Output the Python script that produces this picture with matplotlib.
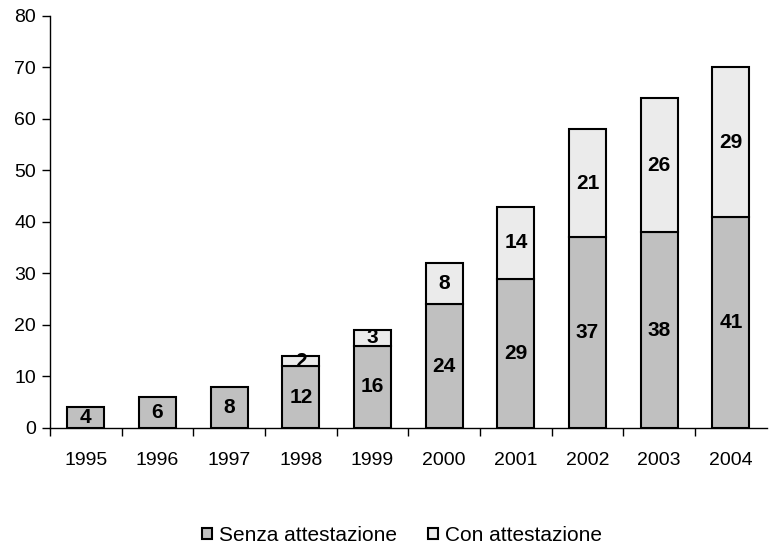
import matplotlib
matplotlib.use("Agg")
import matplotlib.pyplot as plt
import numpy as np
from matplotlib.ticker import FixedLocator

years = ["1995", "1996", "1997", "1998", "1999", "2000", "2001", "2002", "2003", "2004"]
senza = [4, 6, 8, 12, 16, 24, 29, 37, 38, 41]
con = [0, 0, 0, 2, 3, 8, 14, 21, 26, 29]

plt.rcParams['font.family'] = ['Liberation Sans', 'DejaVu Sans']

fig = plt.figure(figsize=(7.69, 5.45), dpi=100)
ax = fig.add_axes([0.065, 0.2147, 0.932, 0.756])

x = np.arange(len(years))
w = 0.52
b1 = ax.bar(x, senza, width=w, color='#c0c0c0', edgecolor='black', linewidth=1.5,
            label='Senza attestazione', zorder=2)
con_plot = [c if c > 0 else np.nan for c in con]
b2 = ax.bar(x, con_plot, width=w, bottom=senza, color='#ebebeb', edgecolor='black',
            linewidth=1.5, label='Con attestazione', zorder=2)

for i in range(len(years)):
    ax.text(x[i], senza[i] / 2, str(senza[i]), ha='center', va='center',
            fontsize=15, fontweight='bold', zorder=3)
    if con[i] > 0:
        ax.text(x[i], senza[i] + con[i] / 2, str(con[i]), ha='center', va='center',
                fontsize=15, fontweight='bold', zorder=3)

ax.set_xlim(-0.5, len(years) - 0.5)
ax.set_ylim(0, 80)
ax.set_yticks(np.arange(0, 81, 10))
ax.set_xticks(x)
ax.set_xticklabels(years)
ax.xaxis.set_minor_locator(FixedLocator(np.arange(-0.5, len(years) - 0.5, 1.0)))
ax.tick_params(axis='x', which='major', length=0, pad=17, labelsize=14)
ax.tick_params(axis='x', which='minor', length=6, width=1, direction='out')
ax.tick_params(axis='y', length=6, width=1, direction='out', labelsize=14, pad=4)

ax.spines['top'].set_visible(False)
ax.spines['right'].set_visible(False)
ax.spines['left'].set_linewidth(1)
ax.spines['bottom'].set_linewidth(1)

fig.legend(handles=[b1, b2], loc='center', bbox_to_anchor=(0.523, 0.018),
           ncol=2, frameon=False, fontsize=15, handlelength=0.45, handleheight=0.45,
           handletextpad=0.35, columnspacing=1.5)

fig.savefig('out.png', dpi=100)
